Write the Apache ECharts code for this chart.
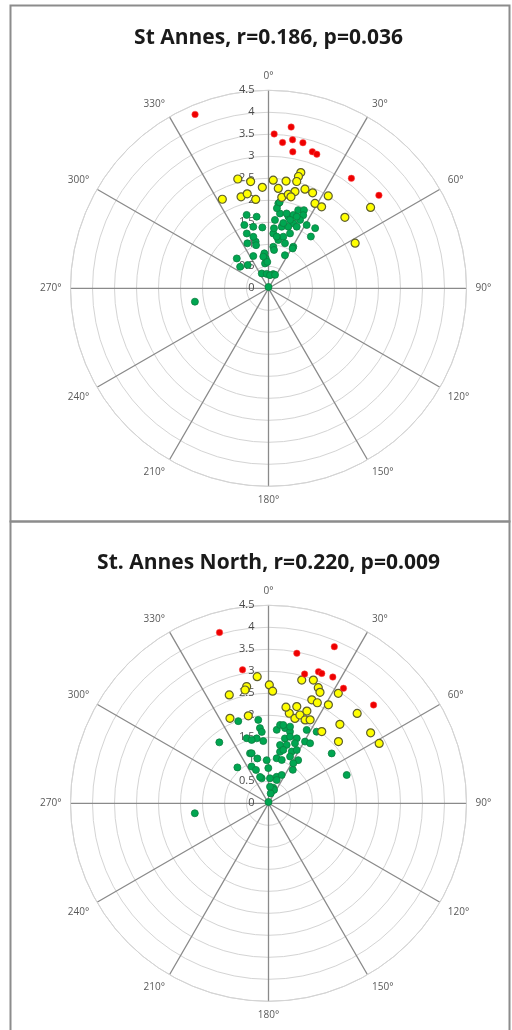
<!DOCTYPE html>
<html><head><meta charset="utf-8">
<script src="https://cdn.jsdelivr.net/npm/echarts@6/dist/echarts.min.js"></script>
<style>html,body{margin:0;padding:0;background:#fff}#c{width:512px;height:1030px}</style>
</head><body><div id="c"></div>
<script>
// Titles
const titles = ['St Annes, r=0.186, p=0.036', 'St. Annes North, r=0.220, p=0.009'];
// Axis ranges
const radiusMax = 4.5, radiusStep = 0.5;
const angleStep = 30;

// Data: [radius, angle in degrees (clockwise from north)]
const stAnnesRed = [[4.29,337.1],[3.51,2.1],[3.70,8.0],[3.33,5.5],[3.42,9.2],[3.40,13.3],[3.15,10.1],[3.26,17.8],[3.24,19.8],[3.13,37.0],[3.28,49.9]];
const stAnnesYellow = [[2.58,344.3],[2.46,350.5],[2.30,356.5],[2.46,2.5],[2.28,332.6],[2.17,343.3],[2.20,347.3],[2.04,351.8],[2.09,8.3],[2.73,15.6],[2.63,15.0],[2.47,9.3],[2.51,14.8],[2.40,20.2],[2.28,15.3],[2.18,11.9],[2.39,24.8],[2.50,32.9],[2.20,28.7],[2.21,33.1],[2.37,47.1],[2.96,51.6],[2.22,62.5],[2.28,5.6],[2.14,13.8]];
const stAnnesGreen = [[1.74,343.4],[1.65,350.6],[1.54,339.1],[1.44,346.1],[1.39,354.2],[1.34,338.4],[1.10,344.6],[0.80,353.2],[0.68,354.7],[0.81,334.8],[0.99,313.3],[0.71,318.2],[0.57,352],[0.37,335.6],[0.33,352.8],[0.34,18.6],[1.94,6.6],[1.72,8.7],[1.56,5.4],[1.43,12.1],[1.25,5.0],[1.12,11.5],[0.95,6.6],[1.83,6.0],[1.69,15.5],[1.76,18.7],[1.90,20.8],[1.95,24.4],[1.84,25.4],[1.71,24.8],[1.58,20.9],[1.47,17.8],[1.52,12.8],[1.54,24.6],[1.68,31.1],[1.73,37.8],[1.52,39.3],[1.34,21.4],[1.22,16.0],[1.10,30.8],[0.84,26.4],[1.97,7.4],[1.70,259.7],[1.37,5.2],[1.19,9.0],[1.09,20.1],[1.06,31.2],[0.88,8.2],[0.73,350.7],[0.60,357.4],[0.30,6.4],[0.34,26],[1.75,21.5],[1.63,17.5],[1.75,13.6],[1.02,343.9],[1.13,334.8],[1.22,343.6],[0.81,307.2],[0.03,0]];

const northRed = [[4.04,344.0],[3.09,349.0],[3.47,10.7],[3.86,22.8],[3.05,15.6],[3.20,20.8],[3.19,22.3],[3.22,27.0],[3.12,33.1],[3.27,46.9]];
const northYellow = [[2.89,354.9],[2.69,0.4],[2.55,2.1],[2.70,349.4],[2.62,340.1],[2.12,335.6],[2.04,347.0],[2.63,348.3],[2.90,15.1],[2.98,20.0],[2.86,23.3],[2.78,24.9],[2.55,22.7],[2.54,25.9],[2.62,31.3],[2.96,32.4],[2.29,16.3],[2.10,13.0],[2.02,17.3],[2.13,19.6],[2.07,23.7],[2.12,26.5],[2.87,44.6],[2.42,42.1],[2.03,36.6],[2.12,48.6],[2.82,55.4],[2.86,61.6],[2.22,10.3],[2.27,22.6]];
const northGreen = [[1.99,339.8],[1.78,321.1],[1.91,353.0],[1.72,353.5],[1.63,354.6],[1.50,349.7],[1.56,341.5],[1.49,345.1],[1.42,355.2],[1.21,339.7],[1.05,346.0],[0.92,335.3],[0.81,339.4],[0.80,359.7],[1.08,319.1],[0.59,344.8],[0.57,3.4],[0.63,17.1],[0.37,17.1],[1.35,11.2],[1.20,12.6],[1.04,10.3],[1.68,6.4],[1.80,8.4],[1.75,12.4],[1.70,16.7],[1.61,23.5],[1.52,14.2],[1.39,17.3],[1.29,24.2],[1.19,34.5],[1.88,27.5],[1.96,33.9],[1.63,30.6],[1.66,34.7],[1.49,23.8],[0.94,36.0],[0.71,25.0],[1.83,51.7],[1.89,70.1],[0.33,22.5],[0.23,12.4],[0.63,342.3],[1.69,262.3],[0.98,357.6],[1.03,17.0],[1.17,24.8],[1.07,31.8],[1.26,15.5],[1.37,27.9],[1.59,17.9],[1.81,10.7],[1.81,15.7],[0.56,19.4],[0.38,5.2],[1.20,341.4],[0.03,0]];

const panels = [
  {red: stAnnesRed, yellow: stAnnesYellow, green: stAnnesGreen, cy: 288.3, titleY: 38},
  {red: northRed, yellow: northYellow, green: northGreen, cy: 803.3, titleY: 563}
];
const cx = 268.5, R = 198;

const chart = echarts.init(document.getElementById('c'), null, {renderer: 'canvas'});
const labelFont = 'Open Sans';

const polar = [], angleAxis = [], radiusAxis = [], series = [], graphic = [];
panels.forEach((p, i) => {
  polar.push({center: [cx, p.cy], radius: R});
  angleAxis.push({
    polarIndex: i, type: 'value', min: 0, max: 360, interval: angleStep,
    startAngle: 90, clockwise: true,
    axisLine: {lineStyle: {color: '#d4d4d4', width: 1}},
    axisTick: {show: false},
    axisLabel: {formatter: '{value}°', fontSize: 10, color: '#595959', margin: 9, fontFamily: labelFont},
    splitLine: {show: true, lineStyle: {color: '#8a8a8a', width: 1.3}}
  });
  radiusAxis.push({
    polarIndex: i, type: 'value', min: 0, max: radiusMax, interval: radiusStep,
    axisLine: {show: false}, axisTick: {show: false},
    axisLabel: {fontSize: 11, color: '#4a4a4a', margin: 14, fontFamily: labelFont, showMaxLabel: true},
    splitLine: {show: true, lineStyle: {color: '#d4d4d4', width: 1}}
  });
  series.push({
    type: 'scatter', coordinateSystem: 'polar', polarIndex: i, data: p.green,
    symbolSize: 7, silent: true,
    itemStyle: {color: '#00a651', borderColor: '#0b7d3f', borderWidth: 0.8, opacity: 1}
  });
  series.push({
    type: 'scatter', coordinateSystem: 'polar', polarIndex: i, data: p.yellow,
    symbolSize: 8, silent: true,
    itemStyle: {color: '#ffff00', borderColor: '#5e5e30', borderWidth: 1.2, opacity: 1}
  });
  series.push({
    type: 'scatter', coordinateSystem: 'polar', polarIndex: i, data: p.red,
    symbolSize: 6.5, silent: true,
    itemStyle: {color: '#ee0000', borderColor: '#ff5050', borderWidth: 0.5, opacity: 1}
  });
  graphic.push({
    type: 'text', x: cx, y: p.titleY,
    style: {text: titles[i], fill: '#1a1a1a', font: 'bold 21px "Open Sans"', align: 'center', verticalAlign: 'middle'}
  });
});
graphic.push({type: 'rect', shape: {x: 10.5, y: 5.5, width: 499, height: 516}, style: {fill: 'none', stroke: '#8c8c8c', lineWidth: 2}, silent: true});
graphic.push({type: 'rect', shape: {x: 10.5, y: 521.5, width: 499, height: 515}, style: {fill: 'none', stroke: '#8c8c8c', lineWidth: 2}, silent: true});

chart.setOption({
  animation: false,
  backgroundColor: '#ffffff',
  polar, angleAxis, radiusAxis, series, graphic
});
</script>
</body></html>
